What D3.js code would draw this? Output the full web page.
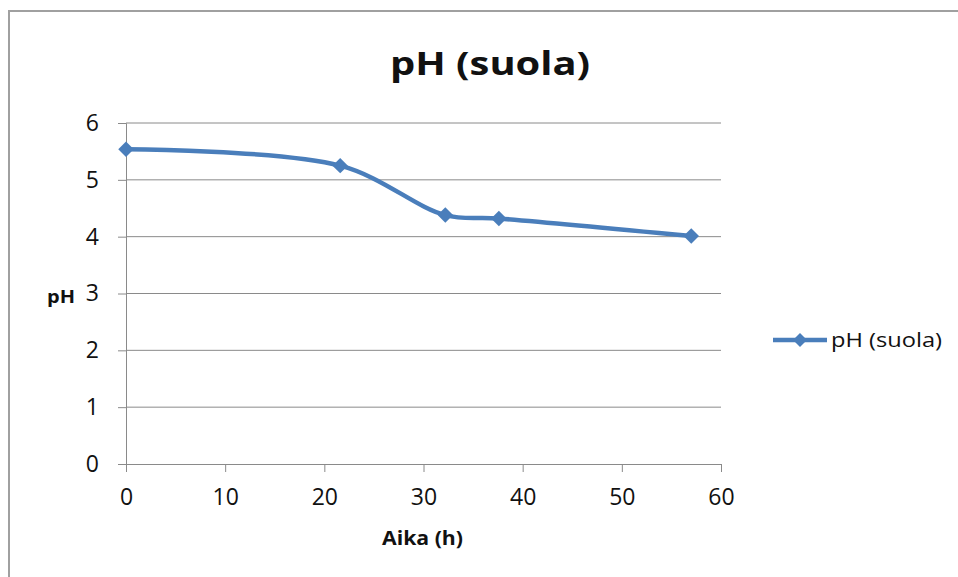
<!DOCTYPE html>
<html>
<head>
<meta charset="utf-8">
<script src="https://cdn.jsdelivr.net/npm/d3@7"></script>
<style>
  html, body { margin: 0; padding: 0; background: #fff; }
  svg { display: block; }
  text { font-family: "Open Sans", sans-serif; fill: #111; }
</style>
</head>
<body>
<svg id="chart" width="958" height="577"></svg>
<script>
// Measured pH of the brine over time
const hours = [0, 21.6, 32.2, 37.6, 57];
const phValues = [5.54, 5.25, 4.38, 4.32, 4.01];
const xTicks = [0, 10, 20, 30, 40, 50, 60];
const yTicks = [0, 1, 2, 3, 4, 5, 6];
const seriesName = "pH (suola)";
const chartTitle = "pH (suola)";
const xTitle = "Aika (h)";
const yTitle = "pH";

const svg = d3.select("#chart");
const lineColor = "#4a7ebb";
const gridColor = "#8a8a8a";
const font = "'Open Sans', sans-serif";

// outer chart frame (only top and left edges fall inside the view)
svg.append("rect")
  .attr("x", 9).attr("y", 11)
  .attr("width", 1000).attr("height", 600)
  .attr("fill", "#fff")
  .attr("stroke", "#a0a0a0").attr("stroke-width", 2);

const x = d3.scaleLinear().domain([0, 60]).range([126, 721]);
const y = d3.scaleLinear().domain([0, 6]).range([464, 123]);

// horizontal gridlines
svg.append("g")
  .selectAll("line")
  .data(yTicks.filter(d => d > 0))
  .join("line")
  .attr("x1", x(0)).attr("x2", x(60))
  .attr("y1", d => y(d)).attr("y2", d => y(d))
  .attr("stroke", gridColor).attr("stroke-width", 1);

// y axis
const yAxis = svg.append("g")
  .attr("transform", `translate(${x(0)},0)`)
  .call(d3.axisLeft(y).tickValues(yTicks).tickSize(8).tickPadding(19).tickFormat(d3.format("d")));
yAxis.select(".domain").attr("stroke", gridColor);
yAxis.selectAll(".tick line").attr("stroke", gridColor);
yAxis.selectAll(".tick text")
  .attr("font-size", 23).attr("font-family", font).attr("fill", "#111");

// x axis
const xAxis = svg.append("g")
  .attr("transform", `translate(0,${y(0)})`)
  .call(d3.axisBottom(x).tickValues(xTicks).tickSize(8).tickPadding(17).tickSizeOuter(0).tickFormat(d3.format("d")));
xAxis.select(".domain").attr("stroke", gridColor);
xAxis.selectAll(".tick line").attr("stroke", gridColor);
xAxis.selectAll(".tick text")
  .attr("font-size", 23).attr("font-family", font).attr("fill", "#111");

// smoothed series line
const pts = hours.map((h, i) => [h, phValues[i]]);
svg.append("path")
  .datum(pts)
  .attr("fill", "none")
  .attr("stroke", lineColor)
  .attr("stroke-width", 4.5)
  .attr("stroke-linejoin", "round")
  .attr("d", d3.line().x(d => x(d[0])).y(d => y(d[1])).curve(d3.curveCatmullRom.alpha(0.5)));

// diamond markers
svg.append("g")
  .selectAll("path")
  .data(pts)
  .join("path")
  .attr("transform", d => `translate(${x(d[0])},${y(d[1])}) rotate(45)`)
  .attr("d", d3.symbol().type(d3.symbolSquare).size(120))
  .attr("fill", lineColor);

// titles (widened slightly to the chart's lettering)
function label(text, cx, baseline, size, weight, width) {
  svg.append("text")
    .attr("x", cx - width / 2).attr("y", baseline)
    .attr("font-family", font)
    .attr("font-size", size).attr("font-weight", weight)
    .attr("textLength", width).attr("lengthAdjust", "spacingAndGlyphs")
    .text(text);
}
label(chartTitle, 490, 75, 33, "bold", 200);
label(xTitle, 422.5, 545, 19, "bold", 81);
label(yTitle, 61, 303, 18, "bold", 28);

// legend
const lg = svg.append("g").attr("transform", "translate(773,340)");
lg.append("line").attr("x1", 0).attr("x2", 54).attr("y1", 0).attr("y2", 0)
  .attr("stroke", lineColor).attr("stroke-width", 4.5);
lg.append("path").attr("transform", "translate(27,0) rotate(45)")
  .attr("d", d3.symbol().type(d3.symbolSquare).size(98))
  .attr("fill", lineColor);
lg.append("text").attr("x", 58).attr("y", 7)
  .attr("font-family", font)
  .attr("font-size", 20)
  .attr("textLength", 111).attr("lengthAdjust", "spacingAndGlyphs")
  .text(seriesName);
</script>
</body>
</html>
